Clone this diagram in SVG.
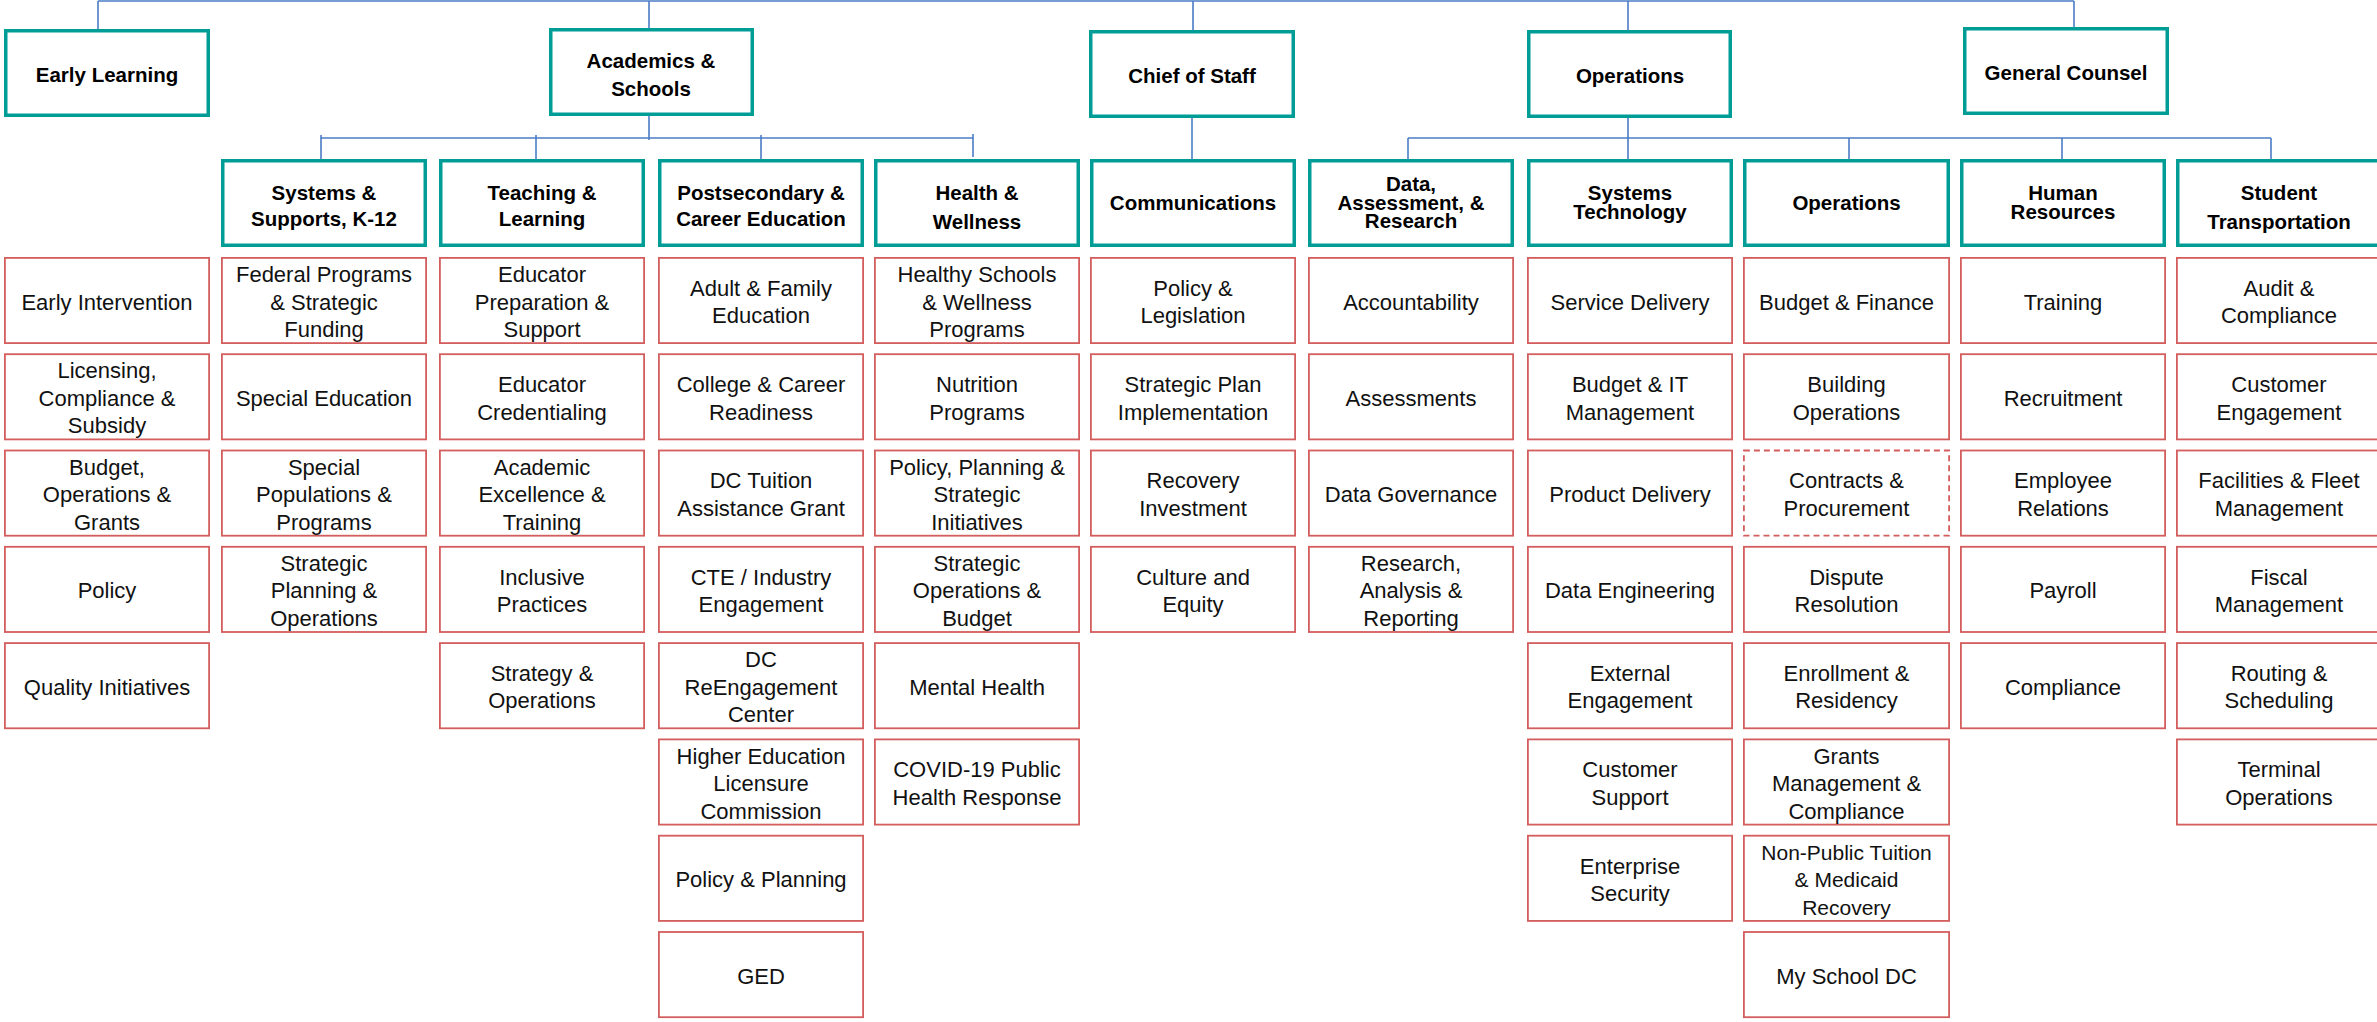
<svg xmlns="http://www.w3.org/2000/svg" width="2377" height="1022" viewBox="0 0 2377 1022">
<style>
.hd{fill:#fff;stroke:#009C96;stroke-width:3.5}
.lf{fill:#fff;stroke:#D45D5D;stroke-width:1.8}
.dash{stroke-dasharray:6 4}
.ht{font-family:"Liberation Sans",Arial,sans-serif;font-weight:bold;font-size:20.5px;fill:#000;text-anchor:middle}
.lt{font-family:"Liberation Sans",Arial,sans-serif;font-size:22px;fill:#111;text-anchor:middle}
.cn{stroke:#4A7CC6;stroke-width:1.6;fill:none}
</style>
<rect x="0" y="0" width="2377" height="1022" fill="#fff"/>
<g id="connectors" class="cn">
<path d="M98,1 H2074"/>
<path d="M98,1 V29"/>
<path d="M649,1 V28"/>
<path d="M1193,1 V30"/>
<path d="M1628,1 V30"/>
<path d="M2074,1 V27"/>
<path d="M649,116 V140"/>
<path d="M321,138 H973"/>
<path d="M321,135 V159"/>
<path d="M536,135 V159"/>
<path d="M761,135 V159"/>
<path d="M973,134 V157"/>
<path d="M1192,118 V159"/>
<path d="M1628,118 V159"/>
<path d="M1408,138 H2271"/>
<path d="M1408,138 V159"/>
<path d="M1849,138 V159"/>
<path d="M2062,138 V159"/>
<path d="M2271,138 V159"/>
</g>

<!-- top level -->
<g id="early-learning"><rect class="hd" x="5.75" y="30.75" width="202.5" height="84.5"/><text class="ht" x="107" y="82">Early Learning</text></g>
<g id="academics-schools"><rect class="hd" x="550.75" y="29.75" width="201.5" height="84.5"/><text class="ht"><tspan x="651" y="68">Academics &amp;</tspan><tspan x="651" y="96">Schools</tspan></text></g>
<g id="chief-of-staff"><rect class="hd" x="1090.75" y="31.75" width="202.5" height="84.5"/><text class="ht" x="1192" y="83">Chief of Staff</text></g>
<g id="operations-top"><rect class="hd" x="1528.75" y="31.75" width="201.5" height="84.5"/><text class="ht" x="1630" y="83">Operations</text></g>
<g id="general-counsel"><rect class="hd" x="1964.75" y="28.75" width="202.5" height="84.5"/><text class="ht" x="2066" y="80">General Counsel</text></g>

<!-- second level -->
<g id="systems-supports"><rect class="hd" x="222.75" y="160.75" width="202.5" height="84.5"/><text class="ht"><tspan x="324" y="200">Systems &amp;</tspan><tspan x="324" y="226">Supports, K-12</tspan></text></g>
<g id="teaching-learning"><rect class="hd" x="440.75" y="160.75" width="202.5" height="84.5"/><text class="ht"><tspan x="542" y="200">Teaching &amp;</tspan><tspan x="542" y="226">Learning</tspan></text></g>
<g id="postsecondary"><rect class="hd" x="659.75" y="160.75" width="202.5" height="84.5"/><text class="ht"><tspan x="761" y="200">Postsecondary &amp;</tspan><tspan x="761" y="226">Career Education</tspan></text></g>
<g id="health-wellness"><rect class="hd" x="875.75" y="160.75" width="202.5" height="84.5"/><text class="ht"><tspan x="977" y="200">Health &amp;</tspan><tspan x="977" y="229">Wellness</tspan></text></g>
<g id="communications"><rect class="hd" x="1091.75" y="160.75" width="202.5" height="84.5"/><text class="ht" x="1193" y="210">Communications</text></g>
<g id="data-assessment"><rect class="hd" x="1309.75" y="160.75" width="202.5" height="84.5"/><text class="ht"><tspan x="1411" y="191">Data,</tspan><tspan x="1411" y="209.5">Assessment, &amp;</tspan><tspan x="1411" y="228">Research</tspan></text></g>
<g id="systems-technology"><rect class="hd" x="1528.75" y="160.75" width="202.5" height="84.5"/><text class="ht"><tspan x="1630" y="200">Systems</tspan><tspan x="1630" y="219">Technology</tspan></text></g>
<g id="operations"><rect class="hd" x="1744.75" y="160.75" width="203.5" height="84.5"/><text class="ht" x="1846.5" y="210">Operations</text></g>
<g id="human-resources"><rect class="hd" x="1961.75" y="160.75" width="202.5" height="84.5"/><text class="ht"><tspan x="2063" y="200">Human</tspan><tspan x="2063" y="219">Resources</tspan></text></g>
<g id="student-transportation"><rect class="hd" x="2177.75" y="160.75" width="202.5" height="84.5"/><text class="ht"><tspan x="2279" y="200">Student</tspan><tspan x="2279" y="229">Transportation</tspan></text></g>

<!-- leaves col0 -->
<g id="l0-0"><rect class="lf" x="4.9" y="257.9" width="204.2" height="85.2"/><text class="lt" x="107" y="309.5">Early Intervention</text></g>
<g id="l0-1"><rect class="lf" x="4.9" y="354.2" width="204.2" height="85.2"/><text class="lt"><tspan x="107" y="378.3">Licensing,</tspan><tspan x="107" y="405.8">Compliance &amp;</tspan><tspan x="107" y="433.3">Subsidy</tspan></text></g>
<g id="l0-2"><rect class="lf" x="4.9" y="450.5" width="204.2" height="85.2"/><text class="lt"><tspan x="107" y="474.6">Budget,</tspan><tspan x="107" y="502.1">Operations &amp;</tspan><tspan x="107" y="529.6">Grants</tspan></text></g>
<g id="l0-3"><rect class="lf" x="4.9" y="546.8" width="204.2" height="85.2"/><text class="lt" x="107" y="598.4">Policy</text></g>
<g id="l0-4"><rect class="lf" x="4.9" y="643.1" width="204.2" height="85.2"/><text class="lt" x="107" y="694.7">Quality Initiatives</text></g>

<!-- col1 -->
<g id="l1-0"><rect class="lf" x="221.9" y="257.9" width="204.2" height="85.2"/><text class="lt"><tspan x="324" y="282">Federal Programs</tspan><tspan x="324" y="309.5">&amp; Strategic</tspan><tspan x="324" y="337">Funding</tspan></text></g>
<g id="l1-1"><rect class="lf" x="221.9" y="354.2" width="204.2" height="85.2"/><text class="lt" x="324" y="405.8">Special Education</text></g>
<g id="l1-2"><rect class="lf" x="221.9" y="450.5" width="204.2" height="85.2"/><text class="lt"><tspan x="324" y="474.6">Special</tspan><tspan x="324" y="502.1">Populations &amp;</tspan><tspan x="324" y="529.6">Programs</tspan></text></g>
<g id="l1-3"><rect class="lf" x="221.9" y="546.8" width="204.2" height="85.2"/><text class="lt"><tspan x="324" y="570.9">Strategic</tspan><tspan x="324" y="598.4">Planning &amp;</tspan><tspan x="324" y="625.9">Operations</tspan></text></g>

<!-- col2 -->
<g id="l2-0"><rect class="lf" x="439.9" y="257.9" width="204.2" height="85.2"/><text class="lt"><tspan x="542" y="282">Educator</tspan><tspan x="542" y="309.5">Preparation &amp;</tspan><tspan x="542" y="337">Support</tspan></text></g>
<g id="l2-1"><rect class="lf" x="439.9" y="354.2" width="204.2" height="85.2"/><text class="lt"><tspan x="542" y="392">Educator</tspan><tspan x="542" y="419.5">Credentialing</tspan></text></g>
<g id="l2-2"><rect class="lf" x="439.9" y="450.5" width="204.2" height="85.2"/><text class="lt"><tspan x="542" y="474.6">Academic</tspan><tspan x="542" y="502.1">Excellence &amp;</tspan><tspan x="542" y="529.6">Training</tspan></text></g>
<g id="l2-3"><rect class="lf" x="439.9" y="546.8" width="204.2" height="85.2"/><text class="lt"><tspan x="542" y="584.6">Inclusive</tspan><tspan x="542" y="612.1">Practices</tspan></text></g>
<g id="l2-4"><rect class="lf" x="439.9" y="643.1" width="204.2" height="85.2"/><text class="lt"><tspan x="542" y="680.9">Strategy &amp;</tspan><tspan x="542" y="708.4">Operations</tspan></text></g>

<!-- col3 -->
<g id="l3-0"><rect class="lf" x="658.9" y="257.9" width="204.2" height="85.2"/><text class="lt"><tspan x="761" y="295.7">Adult &amp; Family</tspan><tspan x="761" y="323.2">Education</tspan></text></g>
<g id="l3-1"><rect class="lf" x="658.9" y="354.2" width="204.2" height="85.2"/><text class="lt"><tspan x="761" y="392">College &amp; Career</tspan><tspan x="761" y="419.5">Readiness</tspan></text></g>
<g id="l3-2"><rect class="lf" x="658.9" y="450.5" width="204.2" height="85.2"/><text class="lt"><tspan x="761" y="488.3">DC Tuition</tspan><tspan x="761" y="515.8">Assistance Grant</tspan></text></g>
<g id="l3-3"><rect class="lf" x="658.9" y="546.8" width="204.2" height="85.2"/><text class="lt"><tspan x="761" y="584.6">CTE / Industry</tspan><tspan x="761" y="612.1">Engagement</tspan></text></g>
<g id="l3-4"><rect class="lf" x="658.9" y="643.1" width="204.2" height="85.2"/><text class="lt"><tspan x="761" y="667.2">DC</tspan><tspan x="761" y="694.7">ReEngagement</tspan><tspan x="761" y="722.2">Center</tspan></text></g>
<g id="l3-5"><rect class="lf" x="658.9" y="739.4" width="204.2" height="85.2"/><text class="lt"><tspan x="761" y="763.5">Higher Education</tspan><tspan x="761" y="791">Licensure</tspan><tspan x="761" y="818.5">Commission</tspan></text></g>
<g id="l3-6"><rect class="lf" x="658.9" y="835.7" width="204.2" height="85.2"/><text class="lt" x="761" y="887.3">Policy &amp; Planning</text></g>
<g id="l3-7"><rect class="lf" x="658.9" y="932" width="204.2" height="85.2"/><text class="lt" x="761" y="983.6">GED</text></g>

<!-- col4 -->
<g id="l4-0"><rect class="lf" x="874.9" y="257.9" width="204.2" height="85.2"/><text class="lt"><tspan x="977" y="282">Healthy Schools</tspan><tspan x="977" y="309.5">&amp; Wellness</tspan><tspan x="977" y="337">Programs</tspan></text></g>
<g id="l4-1"><rect class="lf" x="874.9" y="354.2" width="204.2" height="85.2"/><text class="lt"><tspan x="977" y="392">Nutrition</tspan><tspan x="977" y="419.5">Programs</tspan></text></g>
<g id="l4-2"><rect class="lf" x="874.9" y="450.5" width="204.2" height="85.2"/><text class="lt"><tspan x="977" y="474.6">Policy, Planning &amp;</tspan><tspan x="977" y="502.1">Strategic</tspan><tspan x="977" y="529.6">Initiatives</tspan></text></g>
<g id="l4-3"><rect class="lf" x="874.9" y="546.8" width="204.2" height="85.2"/><text class="lt"><tspan x="977" y="570.9">Strategic</tspan><tspan x="977" y="598.4">Operations &amp;</tspan><tspan x="977" y="625.9">Budget</tspan></text></g>
<g id="l4-4"><rect class="lf" x="874.9" y="643.1" width="204.2" height="85.2"/><text class="lt" x="977" y="694.7">Mental Health</text></g>
<g id="l4-5"><rect class="lf" x="874.9" y="739.4" width="204.2" height="85.2"/><text class="lt"><tspan x="977" y="777.2">COVID-19 Public</tspan><tspan x="977" y="804.7">Health Response</tspan></text></g>

<!-- col5 -->
<g id="l5-0"><rect class="lf" x="1090.9" y="257.9" width="204.2" height="85.2"/><text class="lt"><tspan x="1193" y="295.7">Policy &amp;</tspan><tspan x="1193" y="323.2">Legislation</tspan></text></g>
<g id="l5-1"><rect class="lf" x="1090.9" y="354.2" width="204.2" height="85.2"/><text class="lt"><tspan x="1193" y="392">Strategic Plan</tspan><tspan x="1193" y="419.5">Implementation</tspan></text></g>
<g id="l5-2"><rect class="lf" x="1090.9" y="450.5" width="204.2" height="85.2"/><text class="lt"><tspan x="1193" y="488.3">Recovery</tspan><tspan x="1193" y="515.8">Investment</tspan></text></g>
<g id="l5-3"><rect class="lf" x="1090.9" y="546.8" width="204.2" height="85.2"/><text class="lt"><tspan x="1193" y="584.6">Culture and</tspan><tspan x="1193" y="612.1">Equity</tspan></text></g>

<!-- col6 -->
<g id="l6-0"><rect class="lf" x="1308.9" y="257.9" width="204.2" height="85.2"/><text class="lt" x="1411" y="309.5">Accountability</text></g>
<g id="l6-1"><rect class="lf" x="1308.9" y="354.2" width="204.2" height="85.2"/><text class="lt" x="1411" y="405.8">Assessments</text></g>
<g id="l6-2"><rect class="lf" x="1308.9" y="450.5" width="204.2" height="85.2"/><text class="lt" x="1411" y="502.1">Data Governance</text></g>
<g id="l6-3"><rect class="lf" x="1308.9" y="546.8" width="204.2" height="85.2"/><text class="lt"><tspan x="1411" y="570.9">Research,</tspan><tspan x="1411" y="598.4">Analysis &amp;</tspan><tspan x="1411" y="625.9">Reporting</tspan></text></g>

<!-- col7 -->
<g id="l7-0"><rect class="lf" x="1527.9" y="257.9" width="204.2" height="85.2"/><text class="lt" x="1630" y="309.5">Service Delivery</text></g>
<g id="l7-1"><rect class="lf" x="1527.9" y="354.2" width="204.2" height="85.2"/><text class="lt"><tspan x="1630" y="392">Budget &amp; IT</tspan><tspan x="1630" y="419.5">Management</tspan></text></g>
<g id="l7-2"><rect class="lf" x="1527.9" y="450.5" width="204.2" height="85.2"/><text class="lt" x="1630" y="502.1">Product Delivery</text></g>
<g id="l7-3"><rect class="lf" x="1527.9" y="546.8" width="204.2" height="85.2"/><text class="lt" x="1630" y="598.4">Data Engineering</text></g>
<g id="l7-4"><rect class="lf" x="1527.9" y="643.1" width="204.2" height="85.2"/><text class="lt"><tspan x="1630" y="680.9">External</tspan><tspan x="1630" y="708.4">Engagement</tspan></text></g>
<g id="l7-5"><rect class="lf" x="1527.9" y="739.4" width="204.2" height="85.2"/><text class="lt"><tspan x="1630" y="777.2">Customer</tspan><tspan x="1630" y="804.7">Support</tspan></text></g>
<g id="l7-6"><rect class="lf" x="1527.9" y="835.7" width="204.2" height="85.2"/><text class="lt"><tspan x="1630" y="873.5">Enterprise</tspan><tspan x="1630" y="901">Security</tspan></text></g>

<!-- col8 -->
<g id="l8-0"><rect class="lf" x="1743.9" y="257.9" width="205.2" height="85.2"/><text class="lt" x="1846.5" y="309.5">Budget &amp; Finance</text></g>
<g id="l8-1"><rect class="lf" x="1743.9" y="354.2" width="205.2" height="85.2"/><text class="lt"><tspan x="1846.5" y="392">Building</tspan><tspan x="1846.5" y="419.5">Operations</tspan></text></g>
<g id="l8-2"><rect class="lf dash" x="1743.9" y="450.5" width="205.2" height="85.2"/><text class="lt"><tspan x="1846.5" y="488.3">Contracts &amp;</tspan><tspan x="1846.5" y="515.8">Procurement</tspan></text></g>
<g id="l8-3"><rect class="lf" x="1743.9" y="546.8" width="205.2" height="85.2"/><text class="lt"><tspan x="1846.5" y="584.6">Dispute</tspan><tspan x="1846.5" y="612.1">Resolution</tspan></text></g>
<g id="l8-4"><rect class="lf" x="1743.9" y="643.1" width="205.2" height="85.2"/><text class="lt"><tspan x="1846.5" y="680.9">Enrollment &amp;</tspan><tspan x="1846.5" y="708.4">Residency</tspan></text></g>
<g id="l8-5"><rect class="lf" x="1743.9" y="739.4" width="205.2" height="85.2"/><text class="lt"><tspan x="1846.5" y="763.5">Grants</tspan><tspan x="1846.5" y="791">Management &amp;</tspan><tspan x="1846.5" y="818.5">Compliance</tspan></text></g>
<g id="l8-6"><rect class="lf" x="1743.9" y="835.7" width="205.2" height="85.2"/><text class="lt" style="font-size:21px"><tspan x="1846.5" y="859.8">Non-Public Tuition</tspan><tspan x="1846.5" y="887.3">&amp; Medicaid</tspan><tspan x="1846.5" y="914.8">Recovery</tspan></text></g>
<g id="l8-7"><rect class="lf" x="1743.9" y="932" width="205.2" height="85.2"/><text class="lt" x="1846.5" y="983.6">My School DC</text></g>

<!-- col9 -->
<g id="l9-0"><rect class="lf" x="1960.9" y="257.9" width="204.2" height="85.2"/><text class="lt" x="2063" y="309.5">Training</text></g>
<g id="l9-1"><rect class="lf" x="1960.9" y="354.2" width="204.2" height="85.2"/><text class="lt" x="2063" y="405.8">Recruitment</text></g>
<g id="l9-2"><rect class="lf" x="1960.9" y="450.5" width="204.2" height="85.2"/><text class="lt"><tspan x="2063" y="488.3">Employee</tspan><tspan x="2063" y="515.8">Relations</tspan></text></g>
<g id="l9-3"><rect class="lf" x="1960.9" y="546.8" width="204.2" height="85.2"/><text class="lt" x="2063" y="598.4">Payroll</text></g>
<g id="l9-4"><rect class="lf" x="1960.9" y="643.1" width="204.2" height="85.2"/><text class="lt" x="2063" y="694.7">Compliance</text></g>

<!-- col10 -->
<g id="l10-0"><rect class="lf" x="2176.9" y="257.9" width="204.2" height="85.2"/><text class="lt"><tspan x="2279" y="295.7">Audit &amp;</tspan><tspan x="2279" y="323.2">Compliance</tspan></text></g>
<g id="l10-1"><rect class="lf" x="2176.9" y="354.2" width="204.2" height="85.2"/><text class="lt"><tspan x="2279" y="392">Customer</tspan><tspan x="2279" y="419.5">Engagement</tspan></text></g>
<g id="l10-2"><rect class="lf" x="2176.9" y="450.5" width="204.2" height="85.2"/><text class="lt"><tspan x="2279" y="488.3">Facilities &amp; Fleet</tspan><tspan x="2279" y="515.8">Management</tspan></text></g>
<g id="l10-3"><rect class="lf" x="2176.9" y="546.8" width="204.2" height="85.2"/><text class="lt"><tspan x="2279" y="584.6">Fiscal</tspan><tspan x="2279" y="612.1">Management</tspan></text></g>
<g id="l10-4"><rect class="lf" x="2176.9" y="643.1" width="204.2" height="85.2"/><text class="lt"><tspan x="2279" y="680.9">Routing &amp;</tspan><tspan x="2279" y="708.4">Scheduling</tspan></text></g>
<g id="l10-5"><rect class="lf" x="2176.9" y="739.4" width="204.2" height="85.2"/><text class="lt"><tspan x="2279" y="777.2">Terminal</tspan><tspan x="2279" y="804.7">Operations</tspan></text></g>
</svg>
